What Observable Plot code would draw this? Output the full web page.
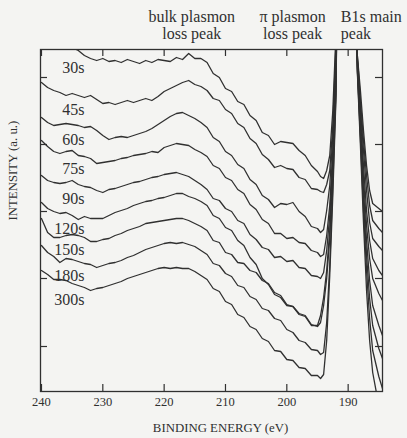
<!DOCTYPE html>
<html><head><meta charset="utf-8">
<script src="https://cdn.jsdelivr.net/npm/d3@7"></script>
<script src="https://cdn.jsdelivr.net/npm/@observablehq/plot@0.6"></script>
<style>
html,body{margin:0;padding:0;background:#f4f4f2;}
#chart{width:407px;height:438px;}
</style></head><body><div id="chart"></div>
<script>
// Binding energy grid (eV)
const energies = [240,239,238,237,236,235,234,233,232,231,230,229,228,227,226,225,224,223,222,221,220,219,218,217,216,215,214,213,212,211,210,209,208,207,206,205,204,203,202,201,200,199,198,197,196,195,194.5,194,193.5,193,192.5,192,191.5,190.2,189,188.5,188,187.5,187,186.5,186,185,184.4];

// Intensity (a.u.) for each sputtering time
const s30  = [371,367,363,358,351,344,341,336,333,331,333,330,331,329,332,330,328,331,329,332,331,330,334,332,338,333,333,329,318,314,303,300,290,287,276,271,259,256,247,250,249,248,241,236,226,220,215,213,221,236,281,356,541,991,541,336,301,261,226,201,188,183,180];
const s45  = [309,304,301,299,296,298,296,294,296,292,288,289,287,289,291,289,291,293,291,295,300,303,306,309,311,307,305,301,293,291,282,278,268,264,253,248,237,232,224,226,223,222,214,212,203,202,200,199,207,221,266,346,541,991,541,336,291,251,216,186,171,163,159];
const s60  = [274,269,266,267,268,267,266,264,265,261,256,252,254,255,254,256,258,260,263,267,271,275,278,279,276,273,269,264,254,250,240,236,227,223,212,207,196,192,184,188,187,189,180,175,165,163,159,162,181,206,256,336,541,991,541,333,283,241,201,169,153,145,141];
const s75  = [251,245,240,238,240,241,236,235,233,228,229,230,231,233,234,236,237,238,240,239,244,246,248,247,246,242,239,235,226,223,214,211,202,198,187,182,172,168,158,158,153,154,149,148,141,139,135,137,156,186,241,326,541,991,541,331,276,226,181,151,133,121,116];
const s90  = [216,211,209,208,209,211,207,205,204,201,199,202,203,205,207,209,210,212,214,215,217,218,219,217,215,211,207,202,193,191,183,180,171,168,157,152,144,142,134,135,130,131,124,123,116,115,113,119,141,176,231,316,541,991,541,329,271,213,166,133,113,98,91];
const s120 = [189,183,180,178,179,176,172,175,173,173,173,176,179,181,183,186,188,190,191,193,194,196,198,198,195,193,190,186,176,173,164,161,151,146,134,127,113,107,97,94,86,85,77,75,66,66,76,94,121,161,226,306,541,991,541,326,266,201,151,111,86,66,56];
const s150 = [173,159,154,154,156,157,156,154,150,150,152,153,156,158,161,163,165,168,169,170,171,172,173,173,171,168,165,161,151,149,139,137,129,128,121,119,111,108,99,96,87,85,78,76,67,65,69,86,113,153,219,301,541,991,541,323,259,191,136,93,66,43,33];
const s180 = [146,139,135,129,133,132,130,128,127,124,126,128,129,131,134,136,139,142,144,146,148,149,148,149,147,145,141,137,128,126,118,115,106,104,95,92,83,81,73,71,62,59,51,49,42,41,37,39,69,126,206,296,541,991,541,321,253,181,121,73,41,15,3];
const s300 = [121,117,112,112,111,108,106,104,101,103,104,106,108,110,113,115,117,119,121,123,124,123,124,123,123,120,116,112,103,100,90,87,77,74,65,62,53,50,41,40,32,31,24,23,16,16,13,17,51,116,196,291,541,991,541,319,246,169,101,51,19,-14,-29];

const seriesNames = ["30s","45s","60s","75s","90s","120s","150s","180s","300s"];
const seriesValues = [s30,s45,s60,s75,s90,s120,s150,s180,s300];

const xTicks = [240,230,220,210,200,190];
const yTicks = [45,113,180,247,314];

const noteEnergies = [215.5, 199.05];
const noteTexts = ["bulk plasmon\nloss peak", "\u03c0 plasmon\nloss peak"];
const mainPeakEnergy = 191.2;
const mainPeakText = "B1s main\npeak";
const labelEnergy = 233;

const rows = seriesNames.flatMap((name, i) =>
  energies.map((e, j) => ({series: name, energy: e, intensity: seriesValues[i][j]})));
const labelRows = seriesNames.map((name, i) =>
  ({series: name, energy: labelEnergy, intensity: seriesValues[i][energies.indexOf(labelEnergy)]}));
const notes = noteEnergies.map((e, i) => ({energy: e, text: noteTexts[i]}));

const ink = "#303030";
const serif = "'Liberation Serif', 'DejaVu Serif', serif";

const chart = Plot.plot({
  width: 407, height: 438,
  marginTop: 49, marginBottom: 47, marginLeft: 40, marginRight: 25,
  style: {background: "transparent", fontFamily: serif, color: ink, overflow: "visible"},
  x: {domain: [240.16, 184.4], label: null},
  y: {domain: [0, 342], axis: null, label: null},
  marks: [
    Plot.line(rows, {x: "energy", y: "intensity", z: "series", stroke: ink, strokeWidth: 1.3, clip: true}),
    Plot.frame({stroke: ink, strokeWidth: 1.3}),
    Plot.ruleX(xTicks, {x: d => d, insetTop: 335, stroke: ink, strokeWidth: 1.2}),
    Plot.ruleX(xTicks, {x: d => d, insetBottom: 335, stroke: ink, strokeWidth: 1.2}),
    Plot.ruleY(yTicks, {y: d => d, insetRight: 335, stroke: ink, strokeWidth: 1.2}),
    Plot.ruleY(yTicks, {y: d => d, insetLeft: 335, stroke: ink, strokeWidth: 1.2}),
    Plot.axisX(xTicks, {tickSize: 0, tickPadding: 6, fontSize: 12.5, label: null, fill: ink}),
    Plot.text(labelRows, {x: "energy", y: "intensity", text: "series", dy: 12, textAnchor: "end", fontSize: 16, fill: ink}),
    Plot.text(notes, {x: "energy", text: "text", frameAnchor: "top", lineAnchor: "bottom", dy: -11, fontSize: 16, lineHeight: 1.05, fill: ink}),
    Plot.text([mainPeakText], {x: () => mainPeakEnergy, text: d => d, frameAnchor: "top", lineAnchor: "bottom", dy: -11, textAnchor: "start", fontSize: 16, lineHeight: 1.05, fill: ink}),
    Plot.text(["INTENSITY (a. u.)"], {frameAnchor: "left", text: d => d, rotate: -90, dx: -28, fontSize: 12.8, fill: ink}),
    Plot.text(["BINDING ENERGY (eV)"], {frameAnchor: "bottom", text: d => d, dy: 40, dx: 9, fontSize: 12.8, fill: ink})
  ]
});
document.getElementById("chart").appendChild(chart);
</script>
</body></html>
